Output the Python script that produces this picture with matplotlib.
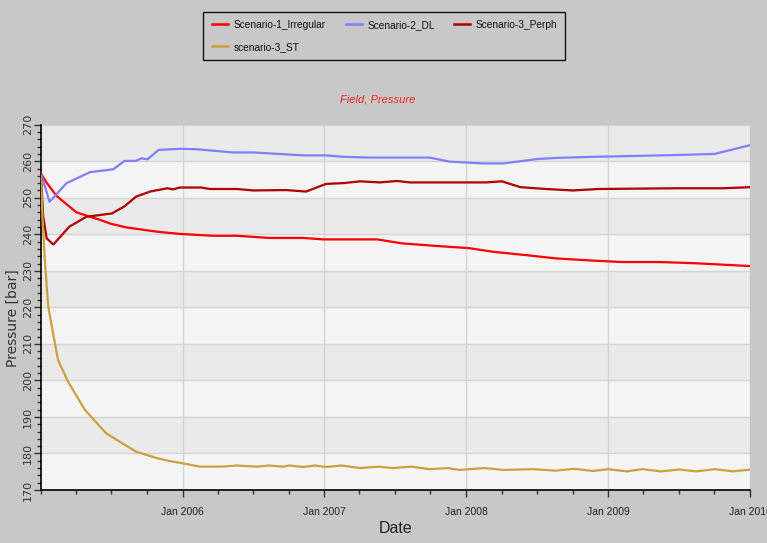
import numpy as np
import pandas as pd
import matplotlib
matplotlib.use("Agg")
import matplotlib.pyplot as plt
import matplotlib.dates as mdates
from matplotlib.lines import Line2D
from matplotlib.patches import Rectangle

# years since Jan 2005
s1_t = [0, 0.04, 0.11, 0.20, 0.25, 0.42, 0.49, 0.60, 0.82, 0.98, 1.21, 1.38, 1.61, 1.85, 1.99,
        2.37, 2.55, 2.79, 3.02, 3.19, 3.42, 3.63, 3.89, 4.10, 4.36, 4.60, 5.0]
s1_v = [256.6, 254.1, 250.5, 247.6, 246.0, 243.9, 242.9, 241.9, 240.7, 240.1, 239.6, 239.6, 239.0,
        239.0, 238.6, 238.6, 237.5, 236.8, 236.2, 235.2, 234.3, 233.4, 232.8, 232.4, 232.4, 232.1, 231.3]

s2_t = [0, 0.06, 0.18, 0.345, 0.51, 0.59, 0.67, 0.71, 0.75, 0.83, 0.98, 1.09, 1.355, 1.50, 1.85,
        2.01, 2.13, 2.32, 2.74, 2.88, 3.02, 3.12, 3.26, 3.50, 3.63, 3.89, 4.13, 4.48, 4.75, 5.0]
s2_v = [256.7, 248.9, 254.0, 257.0, 257.8, 260.1, 260.1, 260.8, 260.5, 263.1, 263.4, 263.3, 262.4,
        262.4, 261.6, 261.6, 261.2, 261.0, 261.0, 259.9, 259.6, 259.4, 259.4, 260.6, 260.9, 261.2,
        261.4, 261.7, 262.0, 264.4]

s3_t = [0, 0.015, 0.04, 0.087, 0.2, 0.32, 0.5, 0.59, 0.67, 0.77, 0.89, 0.93, 0.98, 1.13, 1.19,
        1.38, 1.50, 1.73, 1.87, 2.01, 2.13, 2.25, 2.39, 2.51, 2.60, 2.95, 3.14, 3.25, 3.38, 3.56,
        3.75, 3.93, 4.48, 4.81, 5.0]
s3_v = [256.5, 245.0, 238.9, 237.2, 242.1, 244.8, 245.7, 247.7, 250.3, 251.7, 252.6, 252.3, 252.8,
        252.8, 252.4, 252.4, 252.0, 252.1, 251.7, 253.8, 254.0, 254.5, 254.2, 254.6, 254.2, 254.2,
        254.2, 254.5, 252.9, 252.4, 252.0, 252.4, 252.6, 252.6, 252.9]

s4_t = [0, 0.01, 0.025, 0.05, 0.068, 0.12, 0.19, 0.31, 0.46, 0.67, 0.82, 0.91, 1.0, 1.12, 1.28,
        1.38, 1.52, 1.61, 1.71, 1.75, 1.85, 1.93, 2.01, 2.12, 2.25, 2.38, 2.48, 2.61, 2.74, 2.87,
        2.95, 3.13, 3.26, 3.47, 3.63, 3.76, 3.89, 4.0, 4.13, 4.24, 4.37, 4.50, 4.62, 4.75, 4.88, 5.0]
s4_v = [256.0, 245.0, 234.0, 220.6, 216.5, 205.6, 199.7, 191.9, 185.5, 180.5, 178.7, 177.9, 177.3,
        176.4, 176.4, 176.7, 176.4, 176.7, 176.4, 176.7, 176.3, 176.7, 176.3, 176.7, 176.0, 176.4,
        176.0, 176.4, 175.7, 176.0, 175.5, 176.0, 175.5, 175.7, 175.3, 175.8, 175.2, 175.7, 175.1,
        175.7, 175.1, 175.6, 175.1, 175.7, 175.1, 175.6]

names = ["Scenario-1_Irregular", "Scenario-2_DL", "Scenario-3_Perph", "scenario-3_ST"]
colors = ["#ff0000", "#8080ff", "#b00000", "#c9a13f"]
x_ticklabels = ["Jan 2006", "Jan 2007", "Jan 2008", "Jan 2009", "Jan 2010"]

start = pd.Timestamp("2005-01-01")
def to_dates(t):
    return start + pd.to_timedelta(np.array(t) * 365.25, unit="D")

narrow = ["Liberation Sans", "DejaVu Sans"]
W, H = 767, 543

fig = plt.figure(figsize=(7.67, 5.43), dpi=100)
fig.patch.set_facecolor("#c8c8c8")
ax = fig.add_axes([41/W, 53/H, 709/W, 365.3/H])
ax.set_facecolor("#f4f4f4")

# banded background
for lo in range(170, 270, 10):
    if (lo // 10) % 2 == 0:
        ax.axhspan(lo, lo + 10, color="#eaeaea", zorder=0, lw=0)

for t, v, n, c in zip([s1_t, s2_t, s3_t, s4_t], [s1_v, s2_v, s3_v, s4_v], names, colors):
    ax.plot(to_dates(t), v, color=c, lw=1.6, label=n, zorder=3)

ax.set_xlim(pd.Timestamp("2005-01-01"), pd.Timestamp("2010-01-01"))
ax.set_ylim(170, 270)
ax.set_yticks(np.arange(170, 271, 10))
ax.set_yticks(np.arange(170, 271, 2), minor=True)
ax.set_yticklabels([str(v) for v in range(170, 271, 10)], rotation=90, va="center",
                   fontsize=8, color="#333333")
ax.xaxis.set_minor_locator(mdates.MonthLocator(bymonth=[1, 4, 7, 10]))
xt = [pd.Timestamp(f"{y}-01-01") for y in range(2006, 2011)]
ax.set_xticks(xt)
ax.set_xticklabels(x_ticklabels, fontsize=7.5, family=narrow, color="#222222")

ax.grid(True, which="major", color="#d4d4d4", lw=1, zorder=1)
ax.set_axisbelow(True)
for s in ["top", "right"]:
    ax.spines[s].set_visible(False)
ax.spines["left"].set_linewidth(1.2)
ax.spines["bottom"].set_linewidth(1.2)
ax.tick_params(axis="both", which="major", length=5, width=1, direction="out", color="#333333")
ax.tick_params(axis="both", which="minor", length=3, width=1, direction="out", color="#333333")
ax.tick_params(axis="y", pad=1)
ax.tick_params(axis="x", pad=7)

ax.set_ylabel("Pressure [bar]", fontsize=10, color="#333333")
ax.yaxis.set_label_coords(-0.03, 0.47)
ax.set_xlabel("Date", fontsize=11.5, family=narrow, color="#222222", labelpad=3)

fig.text(378/W, 1 - 99/H, "Field, Pressure", color="#ff2020", fontsize=8,
         style="italic", ha="center", va="center", family=narrow)

# legend drawn as a box with entries in row-major order
fig.patches.append(Rectangle((203/W, 1 - 60/H), 362/W, 48/H, transform=fig.transFigure,
                             facecolor="#c8c8c8", edgecolor="#111111", lw=1.0, zorder=5))
slots = [(212, 24), (346, 24), (454, 24), (212, 46)]
for (px, py), n, c in zip(slots, names, colors):
    yy = 1 - py / H
    fig.lines.append(Line2D([px / W, (px + 16) / W], [yy, yy], transform=fig.transFigure,
                            color=c, lw=1.8, zorder=6))
    fig.text((px + 22) / W, yy, n, fontsize=7.3, family=narrow, color="#111111",
             ha="left", va="center_baseline", zorder=6)

fig.savefig("out.png", dpi=100, facecolor=fig.get_facecolor())
